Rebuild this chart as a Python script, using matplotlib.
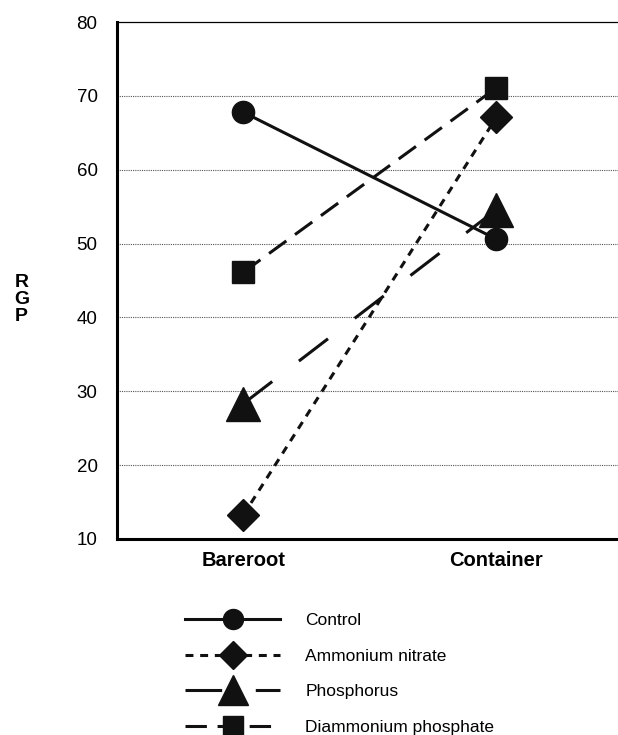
import matplotlib.pyplot as plt

plt.rcParams['font.family'] = ['Liberation Sans', 'DejaVu Sans']

# Data
stock_types = ["Bareroot", "Container"]
control = [67.8, 50.6]
ammonium_nitrate = [13.2, 67.1]
phosphorus = [28.3, 54.6]
diammonium_phosphate = [46.1, 71.1]

y_ticks = [10, 20, 30, 40, 50, 60, 70, 80]

fig = plt.figure(figsize=(6.18, 7.35), dpi=100)
ax = fig.add_axes([0.1893, 0.2667, 0.8107, 0.7033])

x = range(len(stock_types))

lw = 2.2
ax.plot(x, control, color="#111111", lw=lw, linestyle="-",
        marker="o", ms=16, label="Control", zorder=3)
ax.plot(x, ammonium_nitrate, color="#111111", lw=lw, dashes=(2.6, 2.2),
        marker="D", ms=16, label="Ammonium nitrate", zorder=3)
ax.plot(x, phosphorus, color="#111111", lw=lw, dashes=(12, 11),
        marker="^", ms=24, label="Phosphorus", zorder=3)
ax.plot(x, diammonium_phosphate, color="#111111", lw=lw, dashes=(7, 3.5),
        marker="s", ms=16, label="Diammonium phosphate", zorder=3)

ax.set_xlim(-0.498, 1.48)
ax.set_ylim(10, 80)
ax.set_yticks(y_ticks)
ax.set_xticks(list(x))
ax.set_xticklabels(stock_types, fontsize=14.5, fontweight="bold")
ax.tick_params(axis="y", labelsize=13.5, length=0, pad=14)
ax.tick_params(axis="x", length=0, pad=9)

# dotted grid lines
for yv in y_ticks[1:-1]:
    ax.axhline(yv, color="#555555", lw=0.8, linestyle=(0, (1, 1)), zorder=1)

ax.spines["left"].set_linewidth(2.2)
ax.spines["bottom"].set_linewidth(2.2)
ax.spines["top"].set_linewidth(0.9)
ax.spines["right"].set_visible(False)

fig.text(0.035, 0.592, "R\nG\nP", fontsize=14, fontweight="bold",
         ha="center", va="center", linespacing=1.0)

leg = fig.legend(loc="upper left", bbox_to_anchor=(0.299, 0.166),
                 frameon=False, fontsize=12.5, handlelength=5.5,
                 labelspacing=1.18, handletextpad=1.45, markerscale=0.9,
                 borderpad=0, borderaxespad=0)

fig.savefig("out.png", dpi=100)
